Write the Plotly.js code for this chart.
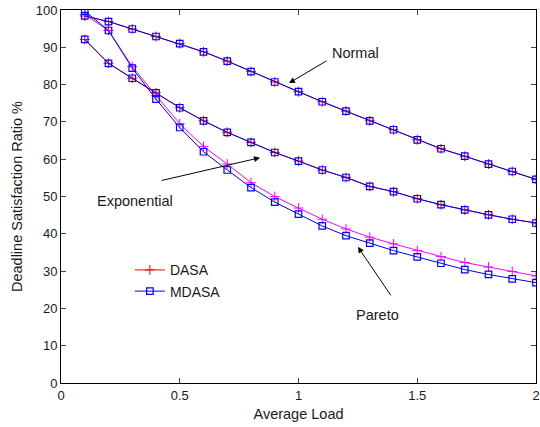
<!DOCTYPE html>
<html>
<head>
<meta charset="utf-8">
<script src="https://cdn.plot.ly/plotly-3.0.1.min.js"></script>
<style>html,body{margin:0;padding:0;background:#fff;}#chart{width:540px;height:427px;}</style>
</head>
<body>
<div id="chart"></div>
<script>
const loads = [0.1,0.2,0.3,0.4,0.5,0.6,0.7,0.8,0.9,1.0,1.1,1.2,1.3,1.4,1.5,1.6,1.7,1.8,1.9,2.0];

const normalDASA  = [98.4,96.9,94.9,92.9,91.0,88.8,86.3,83.5,80.7,78.1,75.4,72.9,70.3,67.9,65.2,62.8,60.8,58.7,56.7,54.6];
const normalMDASA = [98.4,96.9,94.9,92.9,91.0,88.8,86.3,83.5,80.7,78.1,75.4,72.9,70.3,67.9,65.2,62.8,60.8,58.7,56.7,54.6];

const expDASA  = [92.1,85.7,81.7,77.8,73.8,70.3,67.2,64.5,61.8,59.5,57.1,55.1,52.7,51.3,49.4,47.8,46.4,45.1,43.9,42.9];
const expMDASA = [92.1,85.7,81.7,77.8,73.8,70.3,67.2,64.5,61.8,59.5,57.1,55.1,52.7,51.3,49.4,47.8,46.4,45.1,43.9,42.9];

const paretoDASA  = [98.8,94.5,84.8,77.0,69.5,63.4,58.7,53.7,50.0,46.9,43.9,41.3,39.1,37.3,35.5,33.9,32.3,31.1,29.9,28.7];
const paretoMDASA = [99.7,94.5,84.4,76.1,68.5,62.0,57.1,52.4,48.5,45.3,42.1,39.5,37.5,35.5,33.8,32.1,30.4,29.1,27.9,26.9];

const xTicks = [0,0.5,1,1.5,2];
const xTickText = ['0','0.5','1','1.5','2'];
const yTicks = [0,10,20,30,40,50,60,70,80,90,100];

const RED = '#ff0000', MAG = '#ff00ff', BLUE = '#0000ff';

function dasa(y, color, show) {
  return {x: loads, y: y, type: 'scatter', mode: 'lines+markers', name: 'DASA',
    showlegend: show, legendgroup: 'dasa',
    line: {color: color, width: 1},
    marker: {symbol: 'cross-thin-open', size: 7, color: color, line: {color: color, width: 1}}};
}
function mdasa(y, show) {
  return {x: loads, y: y, type: 'scatter', mode: 'lines+markers', name: 'MDASA',
    showlegend: show, legendgroup: 'mdasa',
    line: {color: BLUE, width: 1},
    marker: {symbol: 'square-open', size: 6.5, color: BLUE, line: {color: BLUE, width: 1.2}}};
}

const traces = [
  dasa(normalDASA, RED, true),
  dasa(expDASA, RED, false),
  dasa(paretoDASA, MAG, false),
  mdasa(normalMDASA, true),
  mdasa(expMDASA, false),
  mdasa(paretoMDASA, false)
];

const FONT = 'Liberation Sans, Arial, sans-serif';
const TXT = '#1a1a1a';

function label(text, x, y) {
  return {text: text, x: x, y: y, xref: 'x', yref: 'y', showarrow: false,
    font: {family: FONT, size: 14.5, color: TXT}, xanchor: 'center', yanchor: 'middle'};
}
function arrow(x, y, ax, ay) {
  return {text: '', x: x, y: y, ax: ax, ay: ay, xref: 'x', yref: 'y', axref: 'x', ayref: 'y',
    showarrow: true, arrowhead: 2, arrowsize: 1.2, arrowwidth: 1, arrowcolor: '#000'};
}

const layout = {
  width: 540, height: 427,
  margin: {l: 60.5, r: 3.5, t: 10, b: 43.7, pad: 0},
  paper_bgcolor: '#fff', plot_bgcolor: '#fff',
  font: {family: FONT, size: 13, color: TXT},
  showlegend: true,
  legend: {x: 0.145, y: 0.345, xanchor: 'left', yanchor: 'top', bgcolor: 'rgba(0,0,0,0)',
    borderwidth: 0, font: {family: FONT, size: 14, color: TXT}, tracegroupgap: 0},
  xaxis: {range: [0, 2], tickvals: xTicks, ticktext: xTickText, ticks: 'inside', ticklen: 5,
    showgrid: false, zeroline: false, showline: true, linecolor: '#000', linewidth: 1, mirror: 'ticks',
    tickfont: {family: FONT, size: 13, color: TXT},
    title: {text: 'Average Load', font: {family: FONT, size: 14.5, color: TXT}, standoff: 7}},
  yaxis: {range: [0, 100], tickvals: yTicks, ticks: 'inside', ticklen: 5,
    showgrid: false, zeroline: false, showline: true, linecolor: '#000', linewidth: 1, mirror: 'ticks',
    tickfont: {family: FONT, size: 13, color: TXT},
    title: {text: 'Deadline Satisfaction Ratio %', font: {family: FONT, size: 14.5, color: TXT}, standoff: 9}},
  annotations: [
    label('Normal', 1.242, 88.5),
    arrow(0.960, 80.4, 1.124, 86.6),
    label('Exponential', 0.313, 48.8),
    arrow(0.838, 60.4, 0.418, 54.2),
    label('Pareto', 1.334, 18.3),
    arrow(1.250, 36.5, 1.393, 23.1)
  ]
};

Plotly.newPlot('chart', traces, layout, {displayModeBar: false, staticPlot: true});
</script>
</body>
</html>
